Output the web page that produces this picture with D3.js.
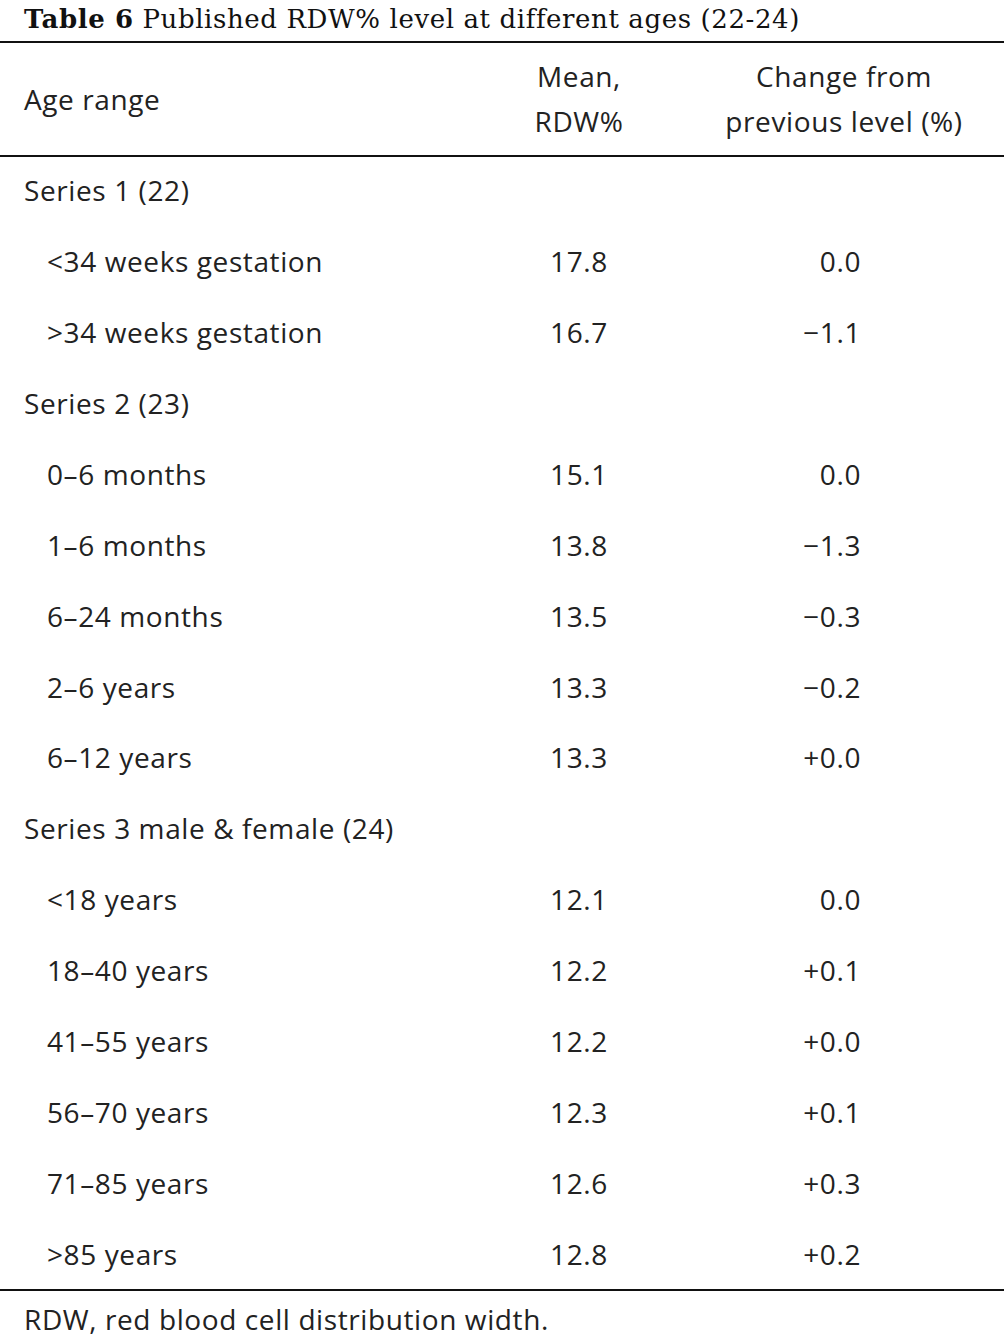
<!DOCTYPE html>
<html><head><meta charset="utf-8">
<script src="https://cdn.jsdelivr.net/npm/d3@7"></script>
<style>body{margin:0;background:#fff} text{letter-spacing:0.6px}</style>
</head><body>
<script>
var labels = ['Series 1 (22)', '<34 weeks gestation', '>34 weeks gestation',
  'Series 2 (23)', '0\u20136 months', '1\u20136 months', '6\u201324 months', '2\u20136 years', '6\u201312 years',
  'Series 3 male & female (24)', '<18 years', '18\u201340 years', '41\u201355 years', '56\u201370 years', '71\u201385 years', '>85 years'];
var isGroup = [1,0,0,1,0,0,0,0,0,1,0,0,0,0,0,0];
var means = ['', '17.8', '16.7', '', '15.1', '13.8', '13.5', '13.3', '13.3', '', '12.1', '12.2', '12.2', '12.3', '12.6', '12.8'];
var changes = ['', '0.0', '\u22121.1', '', '0.0', '\u22121.3', '\u22120.3', '\u22120.2', '+0.0', '', '0.0', '+0.1', '+0.0', '+0.1', '+0.3', '+0.2'];

var width = 1004, height = 1336;
var svg = d3.select('body').append('svg').attr('width', width).attr('height', height);
var sans = "'Open Sans', 'Liberation Sans', Arial, sans-serif";

var title = svg.append('text').attr('x', 24).attr('y', 28)
  .attr('font-family', "'DejaVu Serif', 'Liberation Serif', serif").attr('font-size', 26)
  .attr('letter-spacing', '0.3px').attr('fill', '#111');
title.append('tspan').attr('font-weight', 'bold').text('Table 6');
title.append('tspan').text(' Published RDW% level at different ages (22-24)');

function hline(y) {
  svg.append('line').attr('x1', 0).attr('x2', width).attr('y1', y).attr('y2', y)
    .attr('stroke', '#111').attr('stroke-width', 2);
}
hline(42); hline(156); hline(1290);

var txt = function (x, y, s, anchor) {
  return svg.append('text').attr('x', x).attr('y', y).attr('font-family', sans)
    .attr('font-size', 28).attr('fill', '#222').attr('text-anchor', anchor || 'start').text(s);
};
txt(24, 110, 'Age range');
txt(579, 87, 'Mean,', 'middle'); txt(579, 132, 'RDW%', 'middle');
txt(844, 87, 'Change from', 'middle'); txt(844, 132, 'previous level (%)', 'middle');

var y = d3.scaleBand().domain(d3.range(labels.length)).range([156, 1290]).paddingOuter(0);
var rows = svg.selectAll('.row').data(labels).enter().append('g').attr('class', 'row')
  .attr('transform', function (d, i) { return 'translate(0,' + (y(i) + y.bandwidth() / 2 + 10) + ')'; });
rows.append('text').attr('x', function (d, i) { return isGroup[i] ? 24 : 47; })
  .attr('font-family', sans).attr('font-size', 28).attr('fill', '#222').text(function (d) { return d; });
rows.append('text').attr('x', 579).attr('text-anchor', 'middle')
  .attr('font-family', sans).attr('font-size', 28).attr('fill', '#222').text(function (d, i) { return means[i]; });
rows.append('text').attr('x', 861).attr('text-anchor', 'end')
  .attr('font-family', sans).attr('font-size', 28).attr('fill', '#222').text(function (d, i) { return changes[i]; });

txt(24, 1330, 'RDW, red blood cell distribution width.');
</script>
</body></html>
